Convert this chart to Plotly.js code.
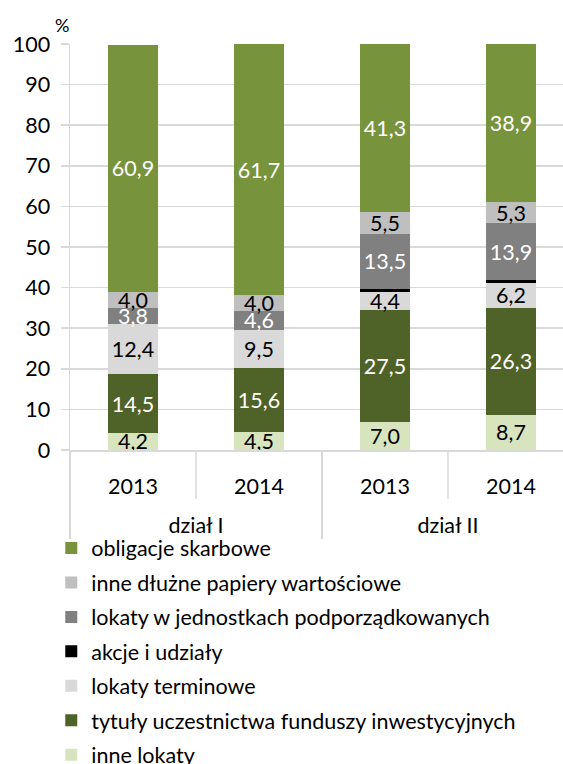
<!DOCTYPE html>
<html>
<head>
<meta charset="utf-8">
<script src="https://cdn.plot.ly/plotly-3.0.1.min.js"></script>
<style>html,body{margin:0;padding:0;background:#fff;overflow:hidden}#chart{width:563px;height:764px}</style>
</head>
<body>
<div id="chart"></div>
<script>
const groups = [' <br>dział I', ' <br>dział I', ' <br>dział II', ' <br>dział II'];
const years = ['2013', '2014', '2013', '2014'];

const inneLokaty = [4.2, 4.5, 7.0, 8.7];
const tytulyUczestnictwa = [14.5, 15.6, 27.5, 26.3];
const lokatyTerminowe = [12.4, 9.5, 4.4, 6.2];
const akcjeIUdzialy = [0.0, 0.0, 0.8, 0.7];
const lokatyWJednostkach = [3.8, 4.6, 13.5, 13.9];
const inneDluzne = [4.0, 4.0, 5.5, 5.3];
const obligacjeSkarbowe = [60.9, 61.7, 41.3, 38.9];

const seriesNames = [
  'inne lokaty',
  'tytuły uczestnictwa funduszy inwestycyjnych',
  'lokaty terminowe',
  'akcje i udziały',
  'lokaty w jednostkach podporządkowanych',
  'inne dłużne papiery wartościowe',
  'obligacje skarbowe'
];
const seriesValues = [inneLokaty, tytulyUczestnictwa, lokatyTerminowe, akcjeIUdzialy, lokatyWJednostkach, inneDluzne, obligacjeSkarbowe];
const seriesColors = ['#D7E4BD', '#4F6228', '#D9D9D9', '#000000', '#808080', '#BFBFBF', '#77933C'];
const labelColors = ['#000000', '#ffffff', '#000000', '#000000', '#ffffff', '#000000', '#ffffff'];
const showLabels = [true, true, true, false, true, true, true];

const FONT = 'Lato, "Open Sans", sans-serif';
const FS = 21.5;

const traces = seriesNames.map((name, i) => ({
  type: 'bar',
  name: name,
  x: [groups, years],
  y: seriesValues[i],
  width: 0.4,
  marker: {color: seriesColors[i], line: {width: 0}},
  text: showLabels[i] ? seriesValues[i].map(v => v.toFixed(1).replace('.', ',')) : null,
  textposition: showLabels[i] ? 'inside' : 'none',
  insidetextanchor: 'middle',
  constraintext: 'none',
  textangle: 0,
  textfont: {family: FONT, size: FS, color: labelColors[i]},
  legendgroup: 'g' + i,
  legendrank: 10 - i,
  hoverinfo: 'skip'
}));

const layout = {
  width: 563,
  height: 764,
  margin: {l: 70, r: 0, t: 44, b: 314, autoexpand: false},
  barmode: 'stack',
  separators: ', ',
  paper_bgcolor: '#ffffff',
  plot_bgcolor: '#ffffff',
  font: {family: FONT, size: FS, color: '#000000'},
  showlegend: true,
  legend: {
    orientation: 'v',
    traceorder: 'grouped',
    tracegroupgap: 3.5,
    x: -0.038,
    xanchor: 'left',
    y: -0.191,
    yanchor: 'top',
    font: {family: FONT, size: FS, color: '#000000'},
    itemwidth: 30,
    bgcolor: 'rgba(0,0,0,0)'
  },
  xaxis: {
    type: 'multicategory',
    range: [-0.5, 3.413],
    showgrid: false,
    showline: true,
    linecolor: '#d9d9d9',
    linewidth: 1.5,
    ticks: '',
    ticklabelstandoff: 17,
    showdividers: true,
    dividercolor: '#d9d9d9',
    dividerwidth: 1.5,
    tickfont: {family: FONT, size: FS, color: '#000000'},
    fixedrange: true
  },
  yaxis: {
    range: [0, 100],
    dtick: 10,
    showgrid: true,
    gridcolor: '#d9d9d9',
    gridwidth: 1.5,
    showline: true,
    linecolor: '#d9d9d9',
    linewidth: 1.5,
    ticks: 'outside',
    ticklen: 8,
    tickcolor: '#d9d9d9',
    tickwidth: 1.5,
    ticklabelstandoff: 6,
    zeroline: false,
    tickfont: {family: FONT, size: FS, color: '#000000'},
    fixedrange: true
  },
  shapes: [0.5, 2.5].map(b => ({
    type: 'line', xref: 'x', yref: 'paper',
    x0: b, x1: b, y0: 0, y1: -49 / 406,
    line: {color: '#d9d9d9', width: 1.5}
  })),
  annotations: [{
    text: '%',
    xref: 'paper', yref: 'paper',
    x: -0.016, y: 1.047,
    xanchor: 'center', yanchor: 'middle',
    showarrow: false,
    font: {family: FONT, size: 18, color: '#000000'}
  }]
};

Plotly.newPlot('chart', traces, layout, {displayModeBar: false, staticPlot: true});
</script>
</body>
</html>
